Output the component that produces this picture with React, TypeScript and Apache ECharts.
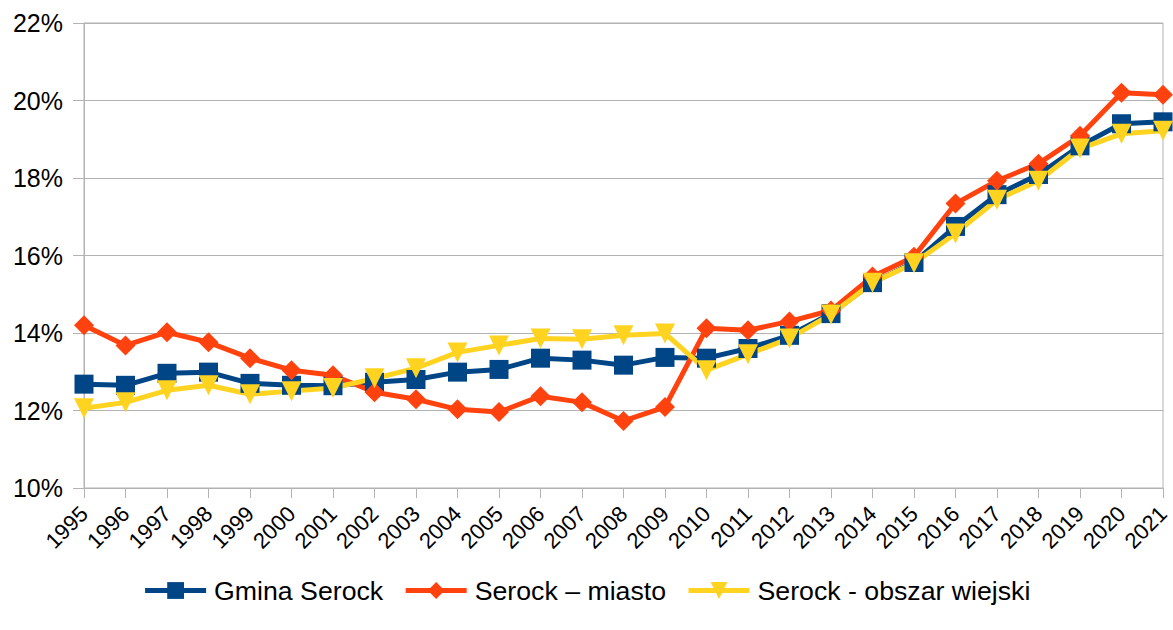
import React, { useEffect, useRef } from "react";
import * as echarts from "echarts";

const years = [
  "1995", "1996", "1997", "1998", "1999", "2000", "2001", "2002", "2003", "2004",
  "2005", "2006", "2007", "2008", "2009", "2010", "2011", "2012", "2013", "2014",
  "2015", "2016", "2017", "2018", "2019", "2020", "2021",
];

const gminaSerock = [
  12.68, 12.65, 12.96, 12.99, 12.7, 12.65, 12.64, 12.73, 12.8, 12.99,
  13.06, 13.35, 13.3, 13.17, 13.37, 13.35, 13.6, 13.94, 14.5, 15.3,
  15.82, 16.75, 17.57, 18.09, 18.83, 19.4, 19.45,
];

const serockMiasto = [
  14.2, 13.68, 14.02, 13.76, 13.35, 13.04, 12.91, 12.47, 12.29, 12.03,
  11.96, 12.37, 12.21, 11.73, 12.09, 14.12, 14.07, 14.3, 14.58, 15.46,
  15.97, 17.34, 17.93, 18.37, 19.09, 20.2, 20.15,
];

const serockWies = [
  12.06, 12.21, 12.52, 12.65, 12.42, 12.5, 12.58, 12.83, 13.09, 13.5,
  13.68, 13.86, 13.84, 13.94, 13.99, 13.04, 13.45, 13.86, 14.48, 15.3,
  15.8, 16.57, 17.44, 17.93, 18.76, 19.14, 19.22,
];

const seriesNames = ["Gmina Serock", "Serock – miasto", "Serock - obszar wiejski"];

export default function App() {
  const ref = useRef<HTMLDivElement>(null);
  useEffect(() => {
    if (!ref.current) return;
    const chart = echarts.init(ref.current, undefined, { renderer: "svg" });
    const font = "Liberation Sans";
    const grey = "#b3b3b3";
    chart.setOption({
      animation: false,
      textStyle: { fontFamily: font, color: "#000" },
      grid: {
        left: 84,
        right: 10,
        top: 23,
        bottom: 142,
        show: true,
        borderColor: grey,
        borderWidth: 1,
      },
      legend: {
        data: seriesNames,
        left: "center",
        top: 572,
        itemWidth: 61,
        itemHeight: 21,
        itemGap: 20,
        textStyle: { fontFamily: font, fontSize: 26.7, color: "#000", padding: [0, 0, 0, 3] },
        lineStyle: { width: 5 },
      },
      xAxis: {
        type: "category",
        data: years,
        boundaryGap: false,
        axisLine: { show: true, lineStyle: { color: grey, width: 1 } },
        axisTick: { show: true, length: 10, interval: 0, lineStyle: { color: grey } },
        axisLabel: {
          interval: 0,
          rotate: 45,
          margin: 22,
          fontFamily: font,
          fontSize: 22,
          color: "#000",
        },
        splitLine: { show: false },
      },
      yAxis: {
        type: "value",
        min: 10,
        max: 22,
        interval: 2,
        axisLine: { show: true, lineStyle: { color: grey, width: 1 } },
        axisTick: { show: true, length: 11, lineStyle: { color: grey } },
        axisLabel: {
          formatter: "{value}%",
          margin: 21,
          fontFamily: font,
          fontSize: 25,
          color: "#000",
        },
        splitLine: { show: true, lineStyle: { color: grey, width: 1 } },
      },
      series: [
        {
          name: seriesNames[0],
          type: "line",
          data: gminaSerock,
          symbol: "rect",
          symbolSize: 19,
          lineStyle: { width: 5, color: "#004586" },
          itemStyle: { color: "#004586" },
        },
        {
          name: seriesNames[1],
          type: "line",
          data: serockMiasto,
          symbol: "diamond",
          symbolSize: 20,
          lineStyle: { width: 5, color: "#ff420e" },
          itemStyle: { color: "#ff420e" },
        },
        {
          name: seriesNames[2],
          type: "line",
          data: serockWies,
          symbol: "triangle",
          symbolRotate: 180,
          symbolSize: 20,
          lineStyle: { width: 5, color: "#ffd320" },
          itemStyle: { color: "#ffd320" },
        },
      ],
    });
    return () => chart.dispose();
  }, []);
  return <div ref={ref} style={{ width: 1173, height: 630, position: "absolute", left: 0, top: 0 }} />;
}
